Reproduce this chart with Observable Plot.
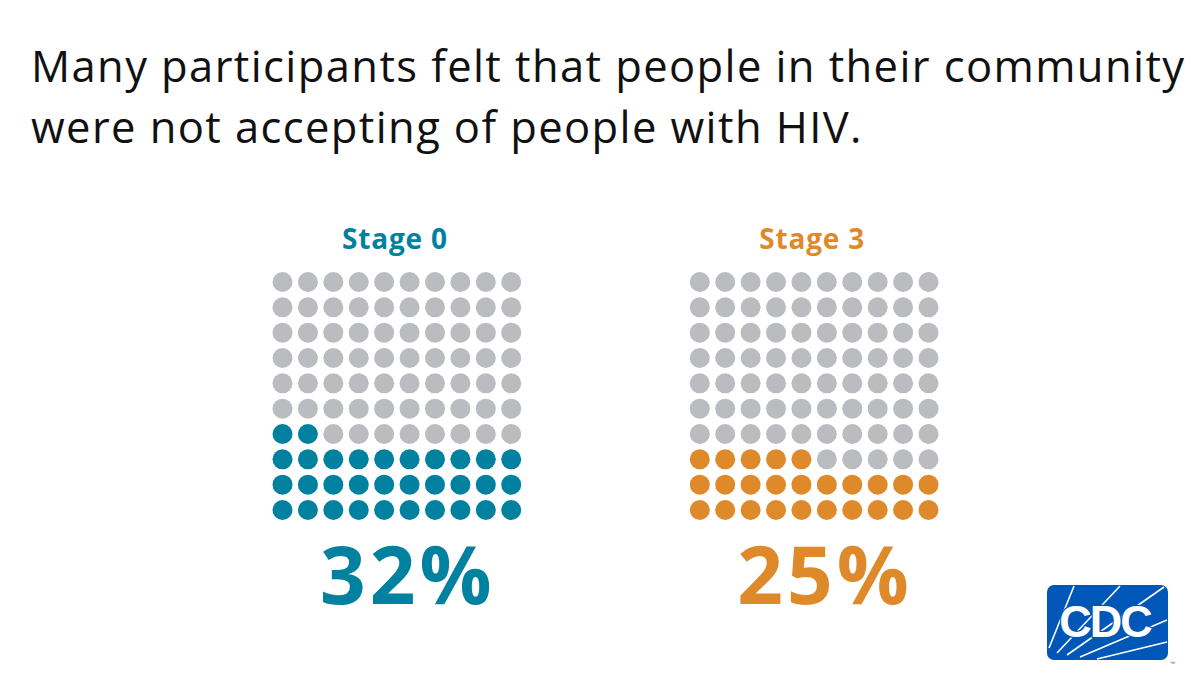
<!DOCTYPE html>
<html>
<head>
<meta charset="utf-8">
<script src="https://cdn.jsdelivr.net/npm/d3@7"></script>
<script src="https://cdn.jsdelivr.net/npm/@observablehq/plot@0.6"></script>
<style>
  html, body { margin: 0; padding: 0; background: #fff; }
  #page { position: relative; width: 1200px; height: 675px; overflow: hidden; }
  #title { position: absolute; left: 31px; top: 35px; margin: 0; font-family: "Open Sans", sans-serif; font-size: 43.5px; line-height: 61px; letter-spacing: 1.4px; font-weight: 400; color: #111; white-space: nowrap; }
  #chart { position: absolute; left: 0; top: 165px; width: 1200px; }
  #logo { position: absolute; left: 1047px; top: 585px; }
</style>
</head>
<body>
<div id="page">
  <h1 id="title">Many participants felt that people in their community<br>were not accepting of people with HIV.</h1>
  <div id="chart"></div>
  <svg id="logo" width="132" height="82" viewBox="0 0 132 82">
    <rect x="0" y="0" width="121" height="75" rx="7" fill="#0057b7"/>
    <g stroke="#fff" stroke-width="1.6" fill="none">
      <line x1="2" y1="63" x2="27" y2="1"/>
      <line x1="10" y1="68" x2="73" y2="1"/>
      <line x1="20" y1="70" x2="117" y2="2"/>
      <line x1="33" y1="72" x2="120" y2="35"/>
      <line x1="50" y1="74" x2="120" y2="57"/>
    </g>
    <text x="58" y="52" text-anchor="middle" font-family="Liberation Sans, Arial, sans-serif" font-weight="700" font-size="45" letter-spacing="-2" fill="#fff" stroke="#0057b7" stroke-width="2.5" paint-order="stroke">CDC</text>
    <text x="123" y="80" font-family="Liberation Sans, Arial, sans-serif" font-size="5" fill="#0057b7">™</text>
  </svg>
</div>
<script>
// Share of participants in each stage who felt their community was not accepting
const stages = ["Stage 0", "Stage 3"];
const percents = [32, 25];
const stageColors = ["#00819f", "#df8a2a"];
const emptyColor = "#babcc0";

// 10 x 10 waffle: one dot per percentage point, filled row by row from the bottom-left
const columns = d3.range(10);
const rows = d3.range(10);
const stageStep = 16.42; // distance between the two waffles, in dot columns

const cells = stages.flatMap((stage, s) =>
  d3.range(columns.length * rows.length).map(i => ({
    stage,
    x: (i % columns.length) + s * stageStep,
    row: Math.floor(i / columns.length),
    fill: i < percents[s] ? stageColors[s] : emptyColor
  }))
);

const summary = stages.map((stage, s) => ({
  stage,
  center: (columns.length - 1) / 2 + s * stageStep,
  label: `${percents[s]}%`,
  color: stageColors[s]
}));

const chart = Plot.plot({
  width: 1200,
  height: 510,
  margin: 0,
  style: { fontFamily: "Open Sans, sans-serif", background: "transparent", overflow: "visible" },
  x: { type: "linear", domain: [0, columns.length - 1 + stageStep], range: [282, 928], axis: null },
  y: { type: "linear", domain: [0, rows.length - 1], range: [344.5, 116.5], axis: null },
  color: { type: "identity" },
  marks: [
    Plot.dot(cells, { x: "x", y: "row", r: 10, fill: "fill", stroke: null }),
    // stage names above each waffle
    Plot.text(summary, {
      x: "center", y: () => rows.length - 1, dy: -42, dx: -2, text: "stage",
      fill: "color", fontSize: 28, fontWeight: 700
    }),
    // large percentage below each waffle
    Plot.text(summary, {
      x: "center", y: () => 0, dy: 68, dx: 11, text: "label",
      fill: "color", fontSize: 80, fontWeight: 700
    })
  ]
});

// letter spacing on the text marks
d3.select(chart).selectAll("text")
  .attr("letter-spacing", function () { return this.textContent.endsWith("%") ? "4px" : "0.8px"; });

document.getElementById("chart").append(chart);
</script>
</body>
</html>
